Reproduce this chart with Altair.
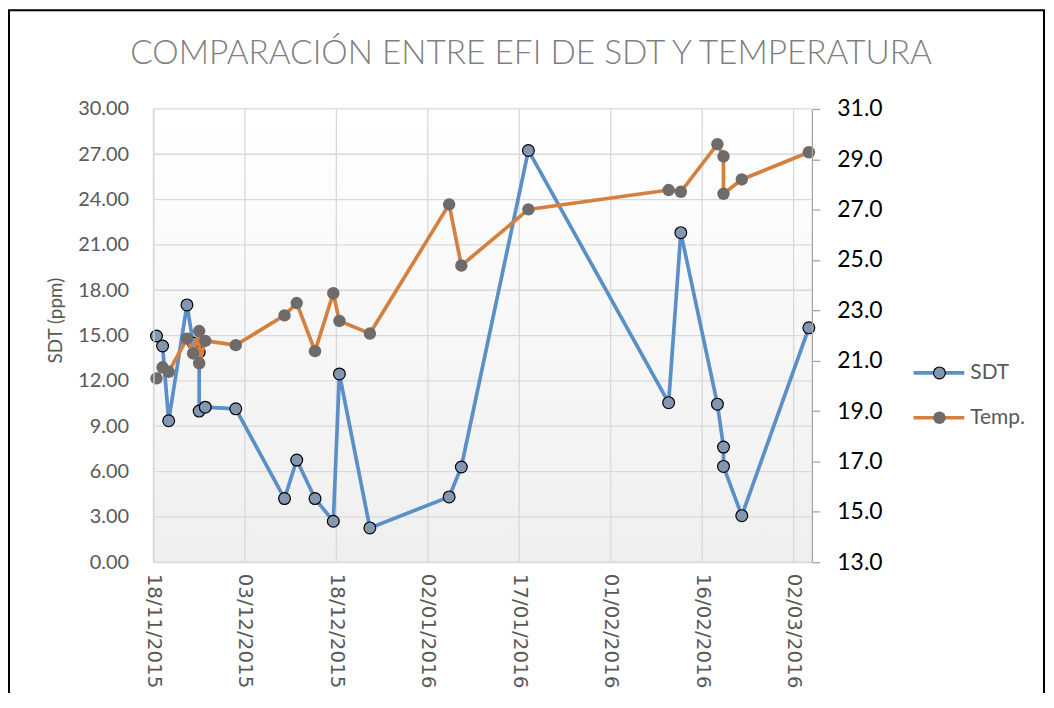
import altair as alt
import pandas as pd

# ---------------- data ----------------
fechas = ["2015-11-18", "2015-11-19", "2015-11-20", "2015-11-23", "2015-11-24",
          "2015-11-25", "2015-11-25", "2015-11-26", "2015-12-01", "2015-12-09",
          "2015-12-11", "2015-12-14", "2015-12-17", "2015-12-18", "2015-12-23",
          "2016-01-05", "2016-01-07", "2016-01-18", "2016-02-10", "2016-02-12",
          "2016-02-18", "2016-02-19", "2016-02-19", "2016-02-22", "2016-03-04"]
sdt = [14.97, 14.31, 9.36, 17.03, 14.5, 13.9, 10.0, 10.26, 10.15, 4.21,
       6.76, 4.21, 2.71, 12.46, 2.27, 4.32, 6.30, 27.25, 10.56, 21.81,
       10.46, 7.62, 6.34, 3.08, 15.51]
temp = [20.30, 20.74, 20.56, 21.88, 21.29, 22.18, 20.90, 21.79, 21.62, 22.80,
        23.29, 21.38, 23.68, 22.58, 22.08, 27.21, 24.78, 27.01, 27.78, 27.71,
        29.60, 29.12, 27.63, 28.20, 29.28]
series = ["SDT", "Temp."]
titulo = "COMPARACIÓN ENTRE EFI DE SDT Y TEMPERATURA"
y_title = "SDT (ppm)"
x_ticks = ["2015-11-18", "2015-12-03", "2015-12-18", "2016-01-02",
           "2016-01-17", "2016-02-01", "2016-02-16", "2016-03-02"]
x_start, x_end = "2015-11-18", "2016-03-05"
sdt_ticks = [0, 3, 6, 9, 12, 15, 18, 21, 24, 27, 30]
temp_ticks = [13, 15, 17, 19, 21, 23, 25, 27, 29, 31]

# ---------------- styling ----------------
W, H = 661, 455
BLUE_LINE = "#5b8fc7"
BLUE_FILL = "#8497b0"
ORANGE_LINE = "#d4803f"
GRAY_FILL = "#6f6b6b"
GRID = "#d9d9d9"
TXT = "#595959"


def dt(s):
    y, m, d = (int(v) for v in s.split("-"))
    return alt.DateTime(year=y, month=m, date=d)


df = pd.DataFrame({
    # Excel date axis (between tick marks): each point sits in the middle of its day
    "fecha": [f + "T12:00:00" for f in fechas],
    "SDT": sdt,
    "Temp": temp,
    "orden": list(range(len(fechas))),
})

x_enc = alt.X(
    "fecha:T",
    scale=alt.Scale(domain=[dt(x_start), dt(x_end)]),
    axis=alt.Axis(values=[dt(t) for t in x_ticks], format="%d/%m/%Y",
                  labelAngle=90, labelAlign="left", labelBaseline="middle",
                  labelPadding=11, labelFont="DejaVu Sans", labelFontSize=20,
                  labelColor=TXT, labelFlush=False, labelOverlap=False,
                  ticks=False, domainColor=GRID, domainWidth=1.3,
                  grid=False, title=None, zindex=1),
)

y_sdt = alt.Y(
    "SDT:Q",
    scale=alt.Scale(domain=[0, 30], nice=False, zero=False),
    axis=alt.Axis(values=sdt_ticks, format=".2f", orient="left",
                  labelFont="Lato", labelFontSize=20, labelColor=TXT,
                  labelPadding=25, ticks=False, domainColor=GRID,
                  domainWidth=1.3, grid=False, zindex=1,
                  title=y_title, titleFont="Lato", titleFontSize=19,
                  titleFontWeight="normal", titleColor=TXT, titleAngle=270,
                  titleX=-98, titleY=212, titleAlign="center",
                  titleBaseline="middle"),
)

y_temp = alt.Y(
    "Temp:Q",
    scale=alt.Scale(domain=[13, 31], nice=False, zero=False),
    axis=alt.Axis(values=temp_ticks, format=".1f", orient="right",
                  labelFont="Lato", labelFontSize=23, labelColor="#000000",
                  labelPadding=17, tickSize=8, tickColor="#a6a6a6",
                  tickWidth=1.3, domainColor="#a6a6a6", domainWidth=1.3,
                  grid=False, title=None, zindex=1),
)

one = pd.DataFrame({"k": [0]})

# plot-area background (light vertical gradient)
bg = alt.Chart(one).mark_rect(
    fill=alt.LinearGradient(
        gradient="linear", x1=0, y1=0, x2=0, y2=1,
        stops=[alt.GradientStop(color="#ffffff", offset=0),
               alt.GradientStop(color="#efefef", offset=1)])
).encode(x=alt.value(0), x2=alt.value(W), y=alt.value(0), y2=alt.value(H))

hgrid = alt.Chart(pd.DataFrame({"SDT": sdt_ticks})).mark_rule(
    color=GRID, strokeWidth=1.3).encode(y=y_sdt)
vgrid = alt.Chart(pd.DataFrame({"fecha": [t + "T00:00:00" for t in x_ticks]})).mark_rule(
    color=GRID, strokeWidth=1.3).encode(x=x_enc)

base = alt.Chart(df)
sdt_line = base.mark_line(color=BLUE_LINE, strokeWidth=3.7).encode(
    x=x_enc, y=y_sdt, order="orden:Q")
sdt_pts = base.mark_circle(size=140, color=BLUE_FILL, stroke="#000000",
                           strokeWidth=1.2, opacity=1).encode(x=x_enc, y=y_sdt)

temp_line = base.mark_line(color=ORANGE_LINE, strokeWidth=3.7).encode(
    x=x_enc, y=y_temp, order="orden:Q")
temp_pts = base.mark_circle(size=155, color=GRAY_FILL, opacity=1).encode(
    x=x_enc, y=y_temp)

left = alt.layer(bg, hgrid, vgrid, sdt_line, sdt_pts)
right = alt.layer(temp_line, temp_pts)


def legend_item(label, ypos, line_color, fill, stroke, sw, size):
    d = pd.DataFrame({"serie": [label]})
    c = alt.Chart(d)
    r = c.mark_rule(color=line_color, strokeWidth=3.7).encode(
        x=alt.value(763), x2=alt.value(814), y=alt.value(ypos))
    p = c.mark_circle(size=size, color=fill, stroke=stroke, strokeWidth=sw,
                      opacity=1).encode(x=alt.value(789), y=alt.value(ypos))
    t = c.mark_text(align="left", baseline="middle", font="Lato", fontSize=21,
                    color=TXT).encode(x=alt.value(820), y=alt.value(ypos),
                                      text="serie:N")
    return [r, p, t]


leg = (legend_item(series[0], 265, BLUE_LINE, BLUE_FILL, "#000000", 1.2, 140)
       + legend_item(series[1], 310, ORANGE_LINE, GRAY_FILL, GRAY_FILL, 0, 155))

title = alt.Chart(pd.DataFrame({"t": [titulo]})).mark_text(
    align="center", baseline="alphabetic", font="Lato", fontSize=33.5,
    fontWeight=300, color="#7f7f7f").encode(
    x=alt.value(379), y=alt.value(-45), text="t:N")

frame = alt.Chart(one).mark_rect(fillOpacity=0, stroke="#000000", strokeWidth=2).encode(
    x=alt.value(-145), x2=alt.value(894), y=alt.value(-99), y2=alt.value(700))

chart = alt.layer(left, right, *leg, title, frame).resolve_scale(
    y="independent"
).properties(
    width=W, height=H,
    padding={"left": 146, "top": 100, "right": 235, "bottom": 130},
    autosize=alt.AutoSizeParams(type="none"),
    background="white",
).configure_view(stroke=None)

chart.save("out.html", embed_options={"renderer": "svg", "actions": False})
